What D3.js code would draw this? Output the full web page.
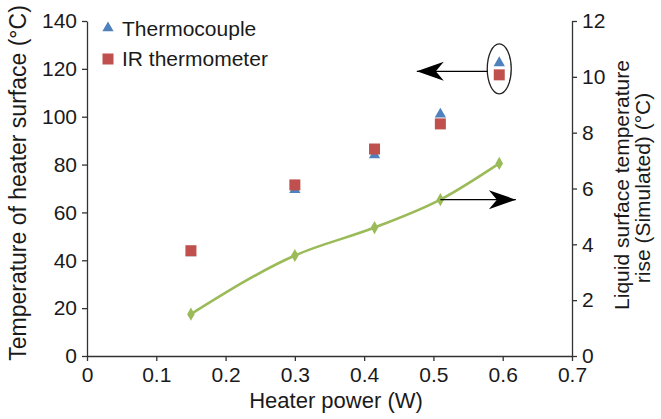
<!DOCTYPE html>
<head>
<title>Heater surface temperature vs heater power</title>
<script src="https://d3js.org/d3.v7.min.js"></script>
</head>
<style>
body { margin: 0; background: #fff; }
svg text { font-family: "Liberation Sans", Arial, sans-serif; fill: #1a1a1a; }
.axis path, .axis line { stroke: #333; stroke-width: 1.3; }
.axis text { font-size: 21px; }
</style>
<body>
<svg class="chart"></svg>
</body>
<script>
// data
var power = [0.15, 0.3, 0.415, 0.51, 0.595];
var thermocouple = [43, 69.5, 84, 101, 122.5];
var irThermometer = [44, 71.5, 86.5, 97, 117.5];
var simulatedRise = [1.5, 3.6, 4.6, 5.6, 6.9];

var xTicks = [0, 0.1, 0.2, 0.3, 0.4, 0.5, 0.6, 0.7];
var leftTicks = [0, 20, 40, 60, 80, 100, 120, 140];
var rightTicks = [0, 2, 4, 6, 8, 10, 12];

var margin = {top: 21, right: 89, bottom: 63, left: 87};
var W = 661, H = 419;
var width = W - margin.left - margin.right;
var height = H - margin.top - margin.bottom;

var svg = d3.select(".chart").attr("width", W).attr("height", H);
var chart = svg.append("g")
	.attr("transform", "translate(" + margin.left + "," + margin.top + ")");

var x = d3.scaleLinear().domain([0, 0.7]).range([0, width]);
var yL = d3.scaleLinear().domain([0, 140]).range([height, 0]);
var yR = d3.scaleLinear().domain([0, 12]).range([height, 0]);

// axes
chart.append("g")
	.attr("class", "axis")
	.attr("transform", "translate(0," + height + ")")
	.call(d3.axisBottom(x).tickValues(xTicks).tickSizeInner(5).tickSizeOuter(0).tickPadding(6)
		.tickFormat(function(d){ return d === 0 ? "0" : d3.format(".1f")(d); }));

chart.append("g")
	.attr("class", "axis")
	.call(d3.axisLeft(yL).tickValues(leftTicks).tickSizeInner(5).tickSizeOuter(0).tickPadding(5));

chart.append("g")
	.attr("class", "axis")
	.attr("transform", "translate(" + width + ",0)")
	.call(d3.axisRight(yR).tickValues(rightTicks).tickSizeInner(5).tickSizeOuter(0).tickPadding(5));

// simulated line (right axis)
var rows = power.map(function(p, i){
	return {p: p, tc: thermocouple[i], ir: irThermometer[i], sim: simulatedRise[i]};
});

chart.append("path")
	.datum(rows)
	.attr("fill", "none")
	.attr("stroke", "#9BBB59")
	.attr("stroke-width", 2.6)
	.attr("d", d3.line().curve(d3.curveMonotoneX)
		.x(function(d){ return x(d.p); })
		.y(function(d){ return yR(d.sim); }));

chart.selectAll(".dia")
	.data(rows).enter()
	.append("path")
	.attr("class", "dia")
	.attr("fill", "#9BBB59")
	.attr("transform", function(d){ return "translate(" + x(d.p) + "," + yR(d.sim) + ")"; })
	.attr("d", d3.symbol().type(d3.symbolDiamond).size(50));

// measured points (left axis)
chart.selectAll(".tri")
	.data(rows).enter()
	.append("path")
	.attr("class", "tri")
	.attr("fill", "#4F81BD")
	.attr("transform", function(d){ return "translate(" + x(d.p) + "," + yL(d.tc) + ")"; })
	.attr("d", d3.symbol().type(d3.symbolTriangle).size(55));

chart.selectAll(".sq")
	.data(rows).enter()
	.append("rect")
	.attr("class", "sq")
	.attr("fill", "#C0504D")
	.attr("x", function(d){ return x(d.p) - 5.5; })
	.attr("y", function(d){ return yL(d.ir) - 5.5; })
	.attr("width", 11)
	.attr("height", 11);

// annotation arrows
svg.append("defs").append("marker")
	.attr("id", "head")
	.attr("markerUnits", "userSpaceOnUse")
	.attr("viewBox", "-28 -10 29 20")
	.attr("refX", 0).attr("refY", 0)
	.attr("markerWidth", 29).attr("markerHeight", 20)
	.attr("orient", "auto")
	.append("path")
	.attr("d", "M0,0L-27,-9.5L-19,0L-27,9.5Z")
	.attr("fill", "#000");

var last = rows[rows.length - 1];
var cx = x(last.p), cy = yL((last.tc + last.ir) / 2);
chart.append("ellipse")
	.attr("cx", cx).attr("cy", cy)
	.attr("rx", 12).attr("ry", 25)
	.attr("fill", "none").attr("stroke", "#222").attr("stroke-width", 1.3);

chart.append("line")
	.attr("x1", cx - 12).attr("y1", cy + 2.5)
	.attr("x2", x(0.476)).attr("y2", cy + 2.5)
	.attr("stroke", "#000").attr("stroke-width", 1.3)
	.attr("marker-end", "url(#head)");

chart.append("line")
	.attr("x1", x(rows[3].p)).attr("y1", yR(rows[3].sim))
	.attr("x2", x(0.619)).attr("y2", yR(rows[3].sim))
	.attr("stroke", "#000").attr("stroke-width", 1.3)
	.attr("marker-end", "url(#head)");

// legend
var legend = svg.append("g");
legend.append("path")
	.attr("fill", "#4F81BD")
	.attr("transform", "translate(108,28)")
	.attr("d", d3.symbol().type(d3.symbolTriangle).size(55));
legend.append("text").attr("x", 122).attr("y", 36).style("font-size", "21px").text("Thermocouple");
legend.append("rect").attr("fill", "#C0504D")
	.attr("x", 102.5).attr("y", 53.5).attr("width", 11).attr("height", 11);
legend.append("text").attr("x", 122).attr("y", 66).style("font-size", "21px").text("IR thermometer");

// axis titles
svg.append("text")
	.attr("text-anchor", "middle")
	.attr("transform", "translate(26,183) rotate(-90)")
	.style("font-size", "23px")
	.text("Temperature of heater surface (°C)");

svg.append("text")
	.attr("text-anchor", "middle")
	.attr("transform", "translate(629,185) rotate(-90)")
	.style("font-size", "21px")
	.text("Liquid surface temperature");

svg.append("text")
	.attr("text-anchor", "middle")
	.attr("transform", "translate(650,188) rotate(-90)")
	.style("font-size", "21px")
	.text("rise (Simulated) (°C)");

svg.append("text")
	.attr("text-anchor", "middle")
	.attr("x", 336).attr("y", 408)
	.style("font-size", "22px")
	.text("Heater power (W)");
</script>
